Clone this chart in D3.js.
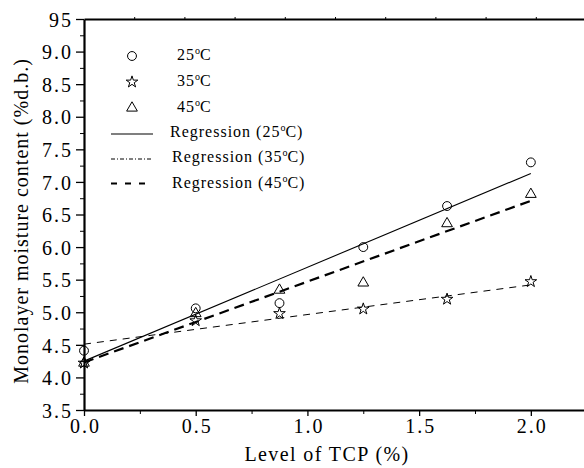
<html>
<head>
<script src="https://d3js.org/d3.v7.min.js"></script>
<style>
  body { margin: 0; background: #fff; }
</style>
</head>
<body>
<svg width="584" height="468"></svg>
<script>
// data
const tcpLevels = [0, 0.5, 0.875, 1.25, 1.625, 2.0];
const moist25 = [4.41, 5.06, 5.14, 6.00, 6.63, 7.30];
const moist35 = [4.22, 4.87, 4.98, 5.05, 5.20, 5.47];
const moist45 = [4.22, 4.98, 5.34, 5.45, 6.36, 6.81];
// regression lines, value at x = 0 and x = 2.0
const regX = [0, 2.0];
const reg25 = [4.25, 7.13];
const reg35 = [4.51, 5.42];
const reg45 = [4.23, 6.71];
const yMajor = [3.5, 4.0, 4.5, 5.0, 5.5, 6.0, 6.5, 7.0, 7.5, 8.0, 8.5, 9.0, 9.5];
const yLabels = ["3.5", "4.0", "4.5", "5.0", "5.5", "6.0", "6.5", "7.0", "7.5", "8.0", "8.5", "9.0", "95"];
const xMajor = [0, 0.5, 1.0, 1.5, 2.0];
const xLabels = ["0.0", "0.5", "1.0", "1.5", "2.0"];

const FONT = "'Liberation Serif', 'Times New Roman', serif";
const svg = d3.select("svg");
const x = d3.scaleLinear().domain([0, 2.25]).range([84, 586.7]);
const y = d3.scaleLinear().domain([3.5, 9.5]).range([410, 19]);

// minor ticks
svg.append("g").attr("transform", "translate(84,0)")
  .call(d3.axisLeft(y).tickValues(d3.range(3.75, 9.5, 0.5)).tickSize(4).tickFormat(""))
  .call(g => g.select(".domain").remove());
svg.append("g").attr("transform", "translate(0,410)")
  .call(d3.axisBottom(x).tickValues([0.25, 0.75, 1.25, 1.75, 2.25]).tickSize(4).tickFormat(""))
  .call(g => g.select(".domain").remove());

// top frame line with its small ticks
const xTop = d3.scaleLinear().domain([0, 10]).range([84, 586]);
svg.append("g").attr("transform", "translate(0,19)")
  .call(d3.axisTop(xTop).tickValues(d3.range(1, 10)).tickSize(2).tickSizeOuter(0).tickFormat(""))
  .call(g => g.select(".domain").attr("stroke-width", 2));

// y axis
svg.append("g").attr("transform", "translate(84,0)")
  .call(d3.axisLeft(y).tickValues(yMajor).tickSize(8).tickSizeOuter(0)
    .tickFormat((d, i) => yLabels[i]))
  .call(g => g.attr("font-family", null).attr("font-size", null))
  .call(g => g.select(".domain").attr("stroke-width", 2.2))
  .call(g => g.selectAll(".tick line").attr("stroke-width", 1.3))
  .call(g => g.selectAll(".tick text")
    .attr("x", -11).attr("dy", "0.36em")
    .style("font-family", FONT)
    .style("font-size", "20px").style("letter-spacing", "2px"));

// x axis
svg.append("g").attr("transform", "translate(0,410)")
  .call(d3.axisBottom(x).tickValues(xMajor).tickSize(6).tickSizeOuter(0)
    .tickFormat((d, i) => xLabels[i]))
  .call(g => g.attr("font-family", null).attr("font-size", null))
  .call(g => g.select(".domain").attr("stroke-width", 2))
  .call(g => g.selectAll(".tick line").attr("stroke-width", 1.3))
  .call(g => g.selectAll(".tick text")
    .attr("y", 23).attr("dy", 0).attr("dx", "1px")
    .style("font-family", FONT)
    .style("font-size", "20px").style("letter-spacing", "2px"));

// axis titles
svg.append("text")
  .attr("x", 327).attr("y", 461)
  .attr("text-anchor", "middle")
  .style("font-family", FONT)
  .style("font-size", "20px").style("letter-spacing", "1.4px")
  .text("Level of TCP (%)");
svg.append("text")
  .attr("transform", "translate(28,221) rotate(-90)")
  .attr("text-anchor", "middle")
  .style("font-family", FONT)
  .style("font-size", "20px").style("letter-spacing", "1px")
  .text("Monolayer moisture content (%d.b.)");

// regression lines
const line = d3.line().x(d => x(d[0])).y(d => y(d[1]));
const regs = [
  { v: reg25, w: 1.1, dash: null },
  { v: reg35, w: 1.0, dash: "7,6" },
  { v: reg45, w: 2.2, dash: "10,6" }
];
regs.forEach(r => {
  svg.append("path")
    .datum(regX.map((xv, i) => [xv, r.v[i]]))
    .attr("d", line)
    .attr("fill", "none")
    .attr("stroke", "#000")
    .attr("stroke-width", r.w)
    .attr("stroke-dasharray", r.dash);
});

// markers
const series = [
  { v: moist25, type: d3.symbolCircle, size: 62 },
  { v: moist35, type: d3.symbolStar, size: 42 },
  { v: moist45, type: d3.symbolTriangle, size: 50 }
];
series.forEach(s => {
  svg.append("g").selectAll("path")
    .data(s.v)
    .join("path")
    .attr("d", d3.symbol().type(s.type).size(s.size))
    .attr("transform", (d, i) => "translate(" + x(tcpLevels[i]) + "," + y(d) + ")")
    .attr("fill", "none")
    .attr("stroke", "#000")
    .attr("stroke-width", 1);
});

// legend
const leg = svg.append("g");
function degText(g, px, py, pre, temp, post) {
  const t = g.append("text").attr("x", px).attr("y", py)
    .style("font-family", FONT)
    .style("font-size", "16px").style("letter-spacing", "1px");
  t.append("tspan").text(pre + temp);
  t.append("tspan").attr("dy", -6).style("font-size", "10px").style("letter-spacing", "0px").text("o");
  t.append("tspan").attr("dy", 6).text("C" + post);
}
const legSym = [
  { type: d3.symbolCircle, size: 62, label: "25", ty: 60 },
  { type: d3.symbolStar, size: 42, label: "35", ty: 86 },
  { type: d3.symbolTriangle, size: 50, label: "45", ty: 112 }
];
legSym.forEach(s => {
  leg.append("path")
    .attr("d", d3.symbol().type(s.type).size(s.size))
    .attr("transform", "translate(132," + (s.ty - 4) + ")")
    .attr("fill", "none").attr("stroke", "#000");
  degText(leg, 177, s.ty, "", s.label, "");
});
const legLines = [
  { label: "25", ty: 137, ly: 134, w: 1.1, dash: null, tx: 170 },
  { label: "35", ty: 162, ly: 159, w: 1.0, dash: "4,2,1,2", tx: 172 },
  { label: "45", ty: 188, ly: 183.5, w: 2.2, dash: "6,8", tx: 172 }
];
legLines.forEach(l => {
  leg.append("line")
    .attr("x1", 111).attr("x2", 153).attr("y1", l.ly).attr("y2", l.ly)
    .attr("stroke", "#000").attr("stroke-width", l.w)
    .attr("stroke-dasharray", l.dash);
  degText(leg, l.tx, l.ty, "Regression  (", l.label, ")");
});
</script>
</body>
</html>
